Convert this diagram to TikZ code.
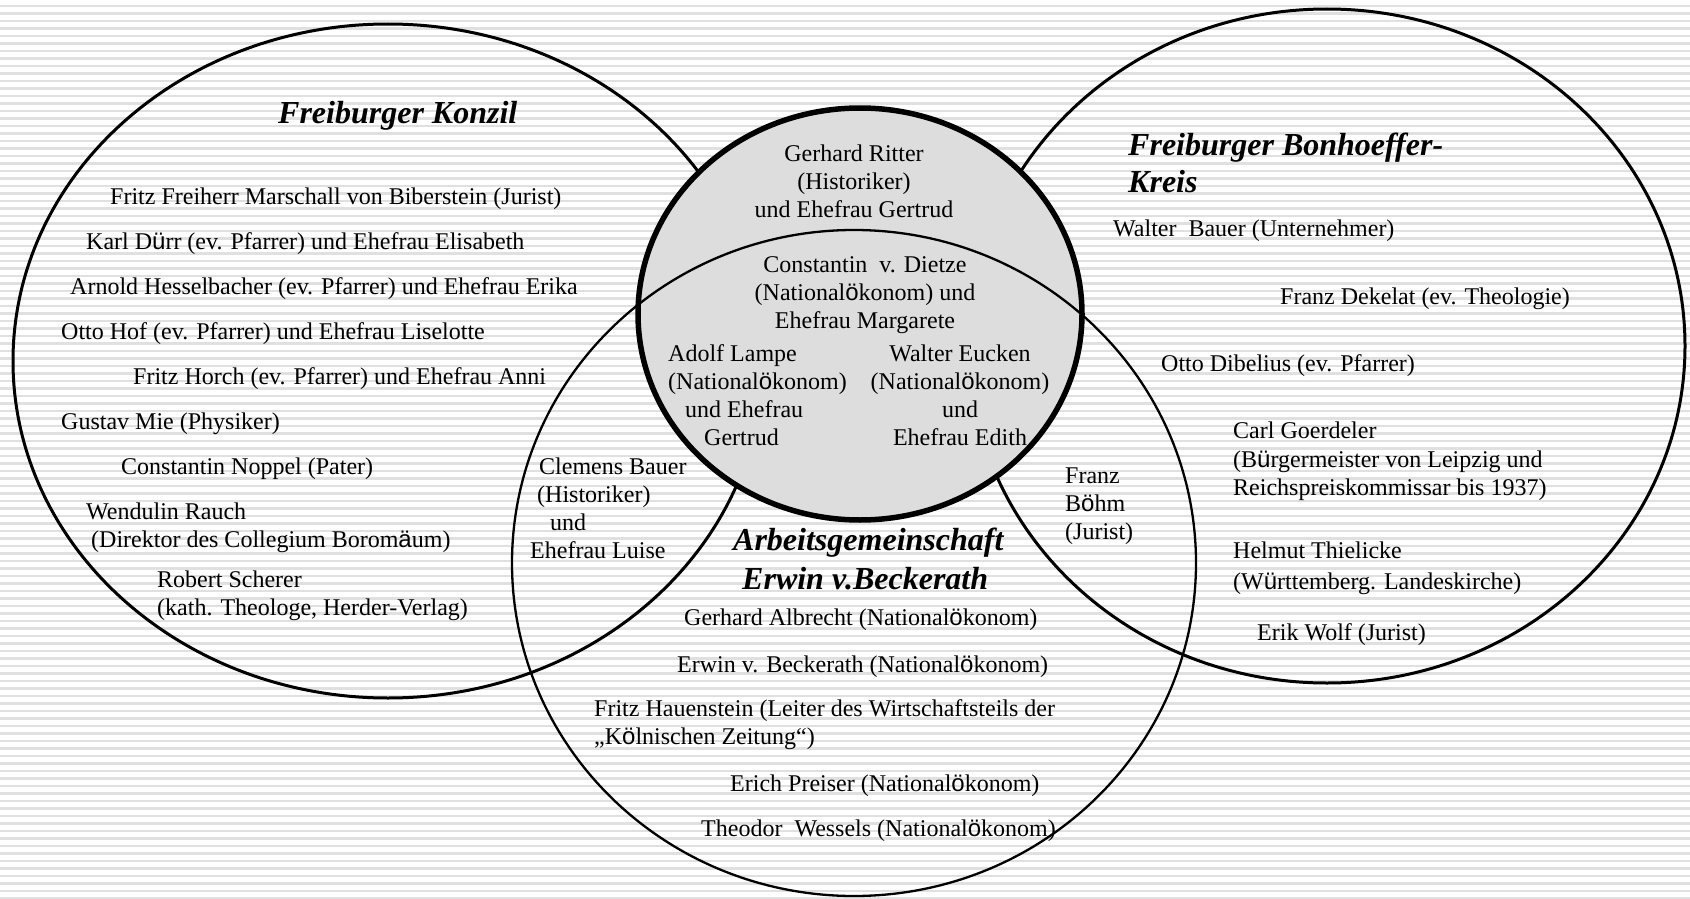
\documentclass[tikz,border=0pt]{standalone}
\usepackage{fontspec}
\setmainfont{Liberation Serif}
\newfontfamily\umlfont{Liberation Sans}
\newcommand\sumlaut[1]{{\umlfont #1}}
\begin{document}
\begin{tikzpicture}[x=1pt,y=-1pt,
  stripe/.style={draw=black!12, line width=2.4pt},
  ell/.style={draw=black, line width=3pt},
  ellthin/.style={draw=black, line width=2.3pt},
  circfill/.style={fill={rgb,255:red,221;green,221;blue,221}},
  circline/.style={draw=black, line width=5.5pt},
  txt/.style={anchor=base west, inner sep=0pt, font=\fontsize{24}{28}\selectfont},
  ctxt/.style={txt, anchor=base},
  ttl/.style={anchor=base west, inner sep=0pt, font=\fontsize{32}{38}\selectfont\bfseries\itshape}]
\useasboundingbox (0,0) rectangle (1690,899);
\fill[white] (0,0) rectangle (1690,899);
\foreach \i in {0,...,119} \draw[stripe] (0,{6+7.5*\i}) -- (1690,{6+7.5*\i});
% ellipses
\draw[ell] (388,361) ellipse [x radius=375pt, y radius=337pt];
\draw[ell] (1327,346) ellipse [x radius=358pt, y radius=337pt];
\fill[circfill] (860,314) ellipse [x radius=222pt, y radius=206pt];
\draw[ellthin] (854,563) ellipse [x radius=342pt, y radius=333pt];
\draw[circline] (860,314) ellipse [x radius=222pt, y radius=206pt];
% Freiburger Konzil
\node[ttl] (tk) at (278,123) {Freiburger Konzil};
\node[txt] (k1) at (110,204) {Fritz Freiherr Marschall von Biberstein (Jurist)};
\node[txt] (k2) at (86,249.5) {Karl D\sumlaut{ü}rr (ev. Pfarrer) und Ehefrau Elisabeth};
\node[txt] (k3) at (70,294.8) {Arnold Hesselbacher (ev. Pfarrer) und Ehefrau Erika};
\node[txt] (k4) at (61,339) {Otto Hof (ev. Pfarrer) und Ehefrau Liselotte};
\node[txt] (k5) at (133,384) {Fritz Horch (ev. Pfarrer) und Ehefrau Anni};
\node[txt] (k6) at (61,429.5) {Gustav Mie (Physiker)};
\node[txt] (k7) at (121,474.8) {Constantin Noppel (Pater)};
\node[txt] (k8a) at (86,519) {Wendulin Rauch};
\node[txt] (k8b) at (91,547) {(Direktor des Collegium Borom\sumlaut{ä}um)};
\node[txt] (k9a) at (157,587) {Robert Scherer};
\node[txt] (k9b) at (157,615) {(kath. Theologe, Herder-Verlag)};
% centre
\node[ctxt] (r1) at (854,161) {Gerhard Ritter};
\node[ctxt] (r2) at (854,189) {(Historiker)};
\node[ctxt] (r3) at (854,217) {und Ehefrau Gertrud};
\node[ctxt] (d1) at (865,272) {Constantin\ \ v. Dietze};
\node[ctxt] (d2) at (865,300) {(National\sumlaut{ö}konom) und};
\node[ctxt] (d3) at (865,328) {Ehefrau Margarete};
\node[txt] (l1) at (668,361.6) {Adolf Lampe};
\node[txt] (l2) at (668,389.6) {(National\sumlaut{ö}konom)};
\node[txt] (l3) at (685,417.6) {und Ehefrau};
\node[txt] (l4) at (704,445.6) {Gertrud};
\node[ctxt] (e1) at (960,361.6) {Walter Eucken};
\node[ctxt] (e2) at (960,389.6) {(National\sumlaut{ö}konom)};
\node[ctxt] (e3) at (960,417.6) {und};
\node[ctxt] (e4) at (960,445.6) {Ehefrau Edith};
% Clemens Bauer
\node[txt] (c1) at (539,474.8) {Clemens Bauer};
\node[txt] (c2) at (537,502.8) {(Historiker)};
\node[txt] (c3) at (550,530.8) {und};
\node[txt] (c4) at (530,558.8) {Ehefrau Luise};
% Franz Boehm
\node[txt] (b1) at (1065,483.4) {Franz};
\node[txt] (b2) at (1065,511.4) {B\sumlaut{ö}hm};
\node[txt] (b3) at (1065,539.4) {(Jurist)};
% Arbeitsgemeinschaft
\node[ttl] (ta1) at (733,550.8) {Arbeitsgemeinschaft};
\node[ttl] (ta2) at (742,589.6) {Erwin v.Beckerath};
\node[txt] (a1) at (684,625.7) {Gerhard Albrecht (National\sumlaut{ö}konom)};
\node[txt] (a2) at (677,672) {Erwin v. Beckerath (National\sumlaut{ö}konom)};
\node[txt] (a3) at (594,716.2) {Fritz Hauenstein (Leiter des Wirtschaftsteils der};
\node[txt] (a4) at (594,744.2) {„K\sumlaut{ö}lnischen Zeitung“)};
\node[txt] (a5) at (730,791.6) {Erich Preiser (National\sumlaut{ö}konom)};
\node[txt] (a6) at (701,836.9) {Theodor\ \ Wessels (National\sumlaut{ö}konom)};
% Bonhoeffer-Kreis
\node[ttl] (tb1) at (1128,155.2) {Freiburger Bonhoeffer-};
\node[ttl] (tb2) at (1128,192.9) {Kreis};
\node[txt] (h1) at (1113,236.6) {Walter\ \ Bauer (Unternehmer)};
\node[txt] (h2) at (1280,304.5) {Franz Dekelat (ev. Theologie)};
\node[txt] (h3) at (1161,371.3) {Otto Dibelius (ev. Pfarrer)};
\node[txt] (h4) at (1233,438.1) {Carl Goerdeler};
\node[txt] (h5) at (1233,467.2) {(B\sumlaut{ü}rgermeister von Leipzig und};
\node[txt] (h6) at (1233,495.2) {Reichspreiskommissar bis 1937)};
\node[txt] (h7) at (1233,558.8) {Helmut Thielicke};
\node[txt] (h8) at (1233,589) {(W\sumlaut{ü}rttemberg. Landeskirche)};
\node[txt] (h9) at (1257,640.7) {Erik Wolf (Jurist)};
\end{tikzpicture}
\end{document}
